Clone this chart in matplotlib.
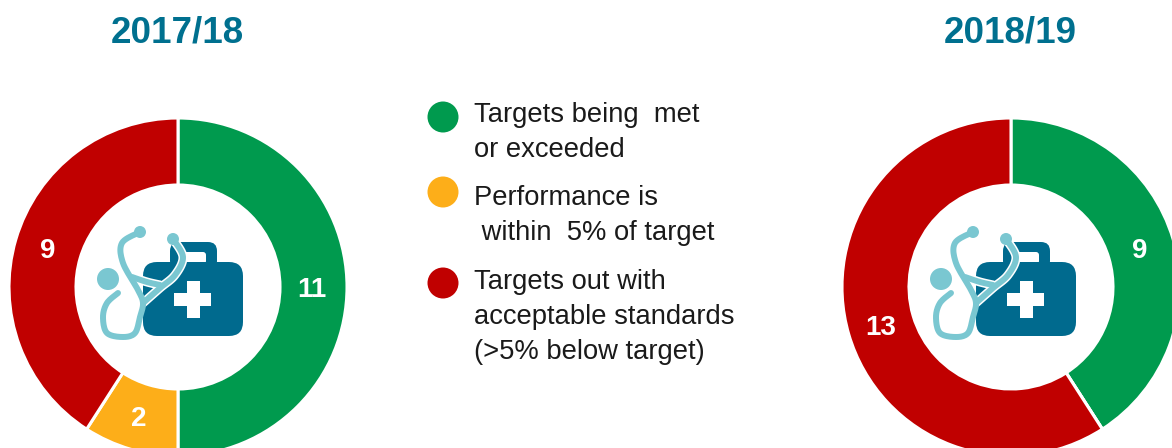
import numpy as np
import matplotlib
matplotlib.use("Agg")
import matplotlib.pyplot as plt
from matplotlib.patches import Circle, FancyBboxPatch, PathPatch, Rectangle
from matplotlib.path import Path

plt.rcParams['font.family'] = ['Liberation Sans', 'DejaVu Sans']

W, H = 1172, 448

years = ['2017/18', '2018/19']
categories = ['met', 'within 5%', 'below']
values_1718 = [11, 2, 9]
values_1819 = [9, 0, 13]
colors = ['#009A4E', '#FDAE19', '#C00000']

legend_lines = [
    ['Targets being  met', 'or exceeded'],
    ['Performance is', ' within  5% of target'],
    ['Targets out with', 'acceptable standards', '(>5% below target)'],
]

BLUE = '#00708F'
LIGHT = '#7AC7D1'
CASE = '#006A8E'


def Y(y):
    return H - y


def stroke(ax, pts, dx, color=LIGHT, lw=4.3, z=5):
    # smooth curve through the pixel waypoints (catmull-rom)
    p = np.array([(x + dx, Y(y)) for x, y in pts], dtype=float)
    p = np.vstack([p[0], p, p[-1]])
    out = []
    for i in range(1, len(p) - 2):
        for t in np.linspace(0, 1, 12):
            out.append(0.5 * (2 * p[i] + (p[i + 1] - p[i - 1]) * t
                              + (2 * p[i - 1] - 5 * p[i] + 4 * p[i + 1] - p[i + 2]) * t ** 2
                              + (3 * p[i] - p[i - 1] - 3 * p[i + 1] + p[i + 2]) * t ** 3))
    ax.add_patch(PathPatch(Path(np.array(out)), fc='none', ec=color, lw=lw,
                           capstyle='round', joinstyle='round', zorder=z))


def draw_icon(ax, dx):
    # bag
    ax.add_patch(FancyBboxPatch((170 + dx, Y(270)), 47, 28,
                                boxstyle='round,pad=0,rounding_size=9',
                                fc=CASE, ec='none', zorder=3))
    ax.add_patch(FancyBboxPatch((183 + dx, Y(264)), 23, 12,
                                boxstyle='round,pad=0,rounding_size=3',
                                fc='white', ec='none', zorder=3.1))
    ax.add_patch(FancyBboxPatch((143 + dx, Y(336)), 100, 74,
                                boxstyle='round,pad=0,rounding_size=14',
                                fc=CASE, ec='none', zorder=3.2))
    ax.add_patch(Rectangle((174 + dx, Y(306)), 37, 13, fc='white', ec='none', zorder=4))
    ax.add_patch(Rectangle((187 + dx, Y(318)), 13, 37, fc='white', ec='none', zorder=4))

    # stethoscope, white halo first then the tube
    right_tube = [(173, 239), (183, 257), (175, 275), (160, 288), (143, 303)]
    tie = [(132, 277), (147, 282), (160, 285)]
    left_tube = [(140, 232), (122, 243), (123, 263), (138, 290), (143, 303),
                 (140, 317), (135, 333), (123, 337), (107, 333), (103, 317),
                 (107, 303), (118, 293)]
    for pts in (right_tube, tie):
        stroke(ax, pts, dx, color='white', lw=6.5, z=4.5)
    stroke(ax, right_tube, dx)
    stroke(ax, tie, dx)
    stroke(ax, left_tube, dx)
    ax.add_patch(Circle((108 + dx, Y(279)), 11, fc=LIGHT, ec='none', zorder=5))
    ax.add_patch(Circle((140 + dx, Y(232)), 6, fc=LIGHT, ec='none', zorder=5))
    ax.add_patch(Circle((173 + dx, Y(239)), 6, fc=LIGHT, ec='none', zorder=5))


fig = plt.figure(figsize=(W / 100, H / 100), dpi=100)
ax = fig.add_axes([0, 0, 1, 1])

centers = [178, 1011]
title_x = [177.5, 1010.5]
series = [values_1718, values_1819]
radius = 169
for cx, tx, vals, yr in zip(centers, title_x, series, years):
    ax.pie(vals, colors=colors, startangle=90, counterclock=False,
           center=(cx, Y(287)), radius=radius, frame=False,
           wedgeprops=dict(width=67, edgecolor='white', linewidth=2.2))
    start = 0
    total = sum(vals)
    for v in vals:
        if v > 0:
            mid = np.deg2rad((start + v / 2) / total * 360)
            ax.text(cx - 1 + 135 * np.sin(mid), Y(289.5) + 135 * np.cos(mid), str(v),
                    color='white', fontsize=20, fontweight='bold',
                    ha='center', va='center', zorder=6)
        start += v
    ax.text(tx, Y(33), yr, color=BLUE, fontsize=26.5, fontweight='bold',
            ha='center', va='center')
    draw_icon(ax, cx - 178)

circle_y = [117, 192, 283]
line_y = [[115, 150], [198, 233], [282, 317, 352]]
for color, cy, lines, ys in zip(colors, circle_y, legend_lines, line_y):
    ax.add_patch(Circle((443, Y(cy)), 15.5, fc=color, ec='none'))
    for txt, ly in zip(lines, ys):
        ax.text(474, Y(ly), txt, fontsize=19.7, color='#1A1A1A', ha='left', va='center')

ax.set_xlim(0, W)
ax.set_ylim(0, H)
ax.set_aspect('auto')
ax.axis('off')

fig.savefig('out.png', dpi=100)
